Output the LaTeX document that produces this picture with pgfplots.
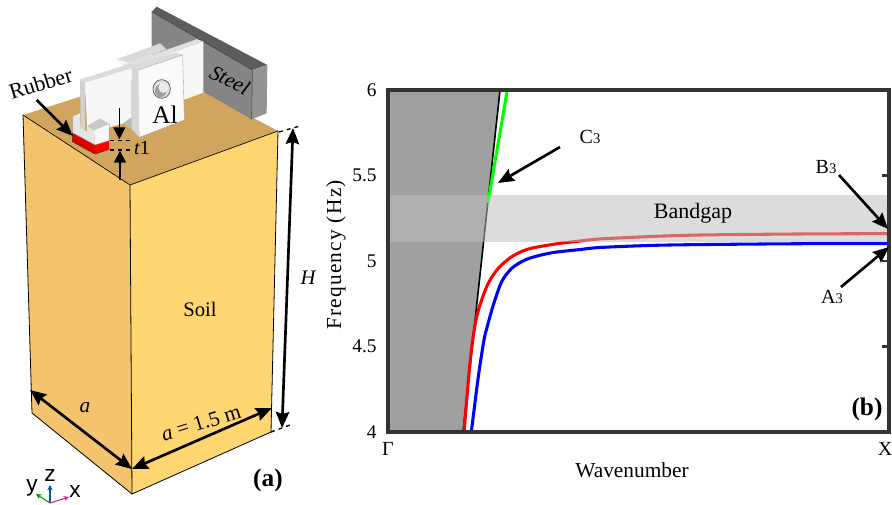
\documentclass[border=0pt]{standalone}
\usepackage{fontspec}
\setmainfont{Liberation Serif}
\newfontfamily\sansf{Liberation Sans}
\newfontfamily\spaced[LetterSpace=6]{Liberation Serif}
\usepackage{pgfplots}
\pgfplotsset{compat=1.18}
\usetikzlibrary{arrows.meta}
\definecolor{topc}{HTML}{D2A55E}
\definecolor{leftc}{HTML}{F3C46D}
\definecolor{rightc}{HTML}{FFD672}
\definecolor{frm}{HTML}{333333}
\newcommand{\fs}[1]{\fontsize{#1}{#1}\selectfont}
\pgfplotstableread{
x y
0.1517 4.000
0.1637 4.404
0.1737 4.626
0.1836 4.743
0.2002 4.870
0.2202 4.957
0.2469 5.025
0.2800 5.070
0.3333 5.099
0.3832 5.117
0.4232 5.129
0.5230 5.143
0.6228 5.152
0.8224 5.158
1.0000 5.160
}\redcurve
\pgfplotstableread{
x y
0.1663 4.000
0.1802 4.322
0.1916 4.538
0.1990 4.626
0.2102 4.743
0.2269 4.879
0.2469 4.957
0.2735 5.006
0.3000 5.031
0.3333 5.051
0.3832 5.067
0.4232 5.079
0.5230 5.091
0.6228 5.096
0.8224 5.101
1.0000 5.102
}\bluecurve
\begin{document}
\begin{tikzpicture}[x=0.75pt,y=-0.75pt,
  big/.style={-{Stealth[length=12pt,width=10pt,inset=1.5pt]},line width=2pt,black},
  bigb/.style={{Stealth[length=12pt,width=10pt,inset=1.5pt]}-{Stealth[length=12pt,width=10pt,inset=1.5pt]},line width=2pt,black}]
\useasboundingbox (0,0) rectangle (892,505);
% ---------- panel (b)
\begin{axis}[at={(291pt,-324pt)},anchor=south west,
  width=375.75pt,height=256.5pt,scale only axis,
  xmin=0,xmax=1,ymin=4,ymax=6,
  axis on top,
  axis line style={frm,line width=2.5pt},
  xtick={0,1},xticklabels={Γ,{X\hspace*{6pt}}},
  xtick style={draw=none},
  ytick={4,4.5,5,5.5,6},
  ytick pos=right,yticklabel pos=left,
  ytick style={frm,line width=1.8pt},
  tick align=inside,major tick length=5pt,
  /pgf/number format/assume math mode=true,
  yticklabel style={/pgf/number format/fixed,font=\fs{14.5},xshift=-5pt},
  xticklabel style={font=\fs{15},yshift=-4pt},
  xlabel={Wavenumber},ylabel={Frequency (Hz)},
  xlabel style={font=\fs{16},at={(axis description cs:0.487,0)},anchor=center,yshift=-29pt},
  ylabel style={font=\spaced\fs{16},at={(axis description cs:0,0.5175)},anchor=center,yshift=39pt},
  clip=true]
\addplot[fill={rgb,255:red,160;green,160;blue,160},draw=none] coordinates {(0,4)(0.1497,4)(0.2236,6)(0,6)} --cycle;
\addplot[black,line width=1.2pt] coordinates {(0.1497,4)(0.2236,6)};
\addplot[red,line width=2.3pt,smooth] table[x=x,y=y]{\redcurve};
\addplot[blue,line width=2.3pt,smooth] table[x=x,y=y]{\bluecurve};
\addplot[green,line width=2.3pt] coordinates {(0.2381,6)(0.2022,5.386)(0.1990,5.34)};
\addplot[fill={rgb,255:red,190;green,190;blue,190},draw=none,fill opacity=0.54] coordinates {(0,5.111)(1,5.111)(1,5.386)(0,5.386)} --cycle;
\end{axis}
\node[font=\fs{16.5}] at (693,213) {Bandgap};
\node[font=\fs{19}\bfseries] at (867,409) {(b)};
\node[font=\fs{15}] at (590,137) {C\raisebox{-0.5pt}{\fs{11}3}};
\node[font=\fs{15}] at (826,167) {B\raisebox{-0.5pt}{\fs{11}3}};
\node[font=\fs{15}] at (832,297) {A\raisebox{-0.5pt}{\fs{11}3}};
\draw[big] (560,147) -- (498,183);
\draw[big] (839,175) -- (888,229);
\draw[big] (841,287) -- (889,247);
% ---------- panel (a): block
\fill[topc] (23,115) -- (163,70) -- (278,131) -- (130,185) -- cycle;
\fill[leftc] (23,115) -- (130,185) -- (132,494) -- (32,413) -- cycle;
\fill[rightc] (130,185) -- (278,131) -- (271,432) -- (132,494) -- cycle;
\draw[black,line width=.5pt] (23,115) -- (130,185) -- (278,131);
\draw[black,line width=.6pt] (130,185) -- (132,494) -- (271,432) -- (278,131);
\draw[black,line width=.6pt] (23,115) -- (32,413) -- (132,494);
% machine, drawn in 3x zoom coordinates
\begin{scope}[x=0.25pt,y=-0.25pt]
\fill[black!48] (455,35) -- (757,210) -- (755,358) -- (610,275) -- (455,200) -- cycle;
\fill[black!64] (455,35) -- (470,20) -- (802,195) -- (757,210) -- cycle;
\fill[black!42] (757,210) -- (802,195) -- (800,340) -- (755,358) -- cycle;
\draw[black!75,line width=.4pt] (455,35) -- (757,210) -- (755,358);
\fill[black!15] (350,178) -- (480,130) -- (500,148) -- (368,195) -- cycle;
\fill[black!3] (350,178) -- (368,195) -- (395,205) -- (395,190) -- cycle;
\fill[black!3] (400,210) -- (590,118) -- (610,125) -- (610,278) -- (550,300) -- (400,300) -- cycle;
\fill[black!12] (368,195) -- (590,118) -- (610,125) -- (395,205) -- cycle;
% left plate
\fill[black!3] (255,248) -- (395,205) -- (395,352) -- (370,370) -- (328,382) -- (262,395) -- cycle;
\fill[black!14] (240,238) -- (395,190) -- (395,205) -- (255,248) -- cycle;
\fill[black!18] (240,238) -- (255,248) -- (255,395) -- (242,385) -- cycle;
\fill[black!28] (370,370) -- (395,352) -- (395,388) -- cycle;
% front square plate
\fill[black!2] (415,210) -- (548,165) -- (553,360) -- (418,412) -- cycle;
\fill[black!14] (395,195) -- (530,158) -- (548,165) -- (415,210) -- cycle;
\fill[black!16] (395,195) -- (415,210) -- (418,412) -- (395,390) -- cycle;
\draw[black!35,line width=.3pt] (415,210) -- (548,165) -- (553,360) -- (418,412) -- (395,390);
% hole
\fill[black!12,draw=black!70,line width=.5pt] (485,267) ellipse[x radius=26,y radius=28];
\fill[black!38] (482,272) ellipse[x radius=17,y radius=19];
\fill[black!8] (490,263) ellipse[x radius=14,y radius=16];
% base block and rubber
\fill[black!10] (217,350) -- (240,340) -- (242,385) -- (262,395) -- (262,378) -- (282,392) -- (285,435) -- (217,398) -- cycle;
\fill[black!22] (262,378) -- (300,355) -- (328,372) -- (282,392) -- cycle;
\fill[black!3] (282,392) -- (328,372) -- (327,422) -- (285,435) -- cycle;
\fill[red!88!black] (217,398) -- (285,435) -- (285,462) -- (217,425) -- cycle;
\fill[red] (285,435) -- (327,422) -- (327,448) -- (285,462) -- cycle;
\draw[black!40,line width=.3pt] (217,350) -- (217,398) -- (285,435) -- (327,422) -- (328,372);
\draw[black!80,line width=.4pt] (217,398) -- (217,425) -- (285,462) -- (327,448);
% t1
\draw[black,line width=1pt,dashed] (330,422) -- (395,422);
\draw[black,line width=1pt,dashed] (330,450) -- (395,450);
\draw[-{Stealth[length=9pt,width=9pt,inset=0pt]},line width=.7pt] (358,325) -- (358,418);
\draw[-{Stealth[length=9pt,width=9pt,inset=0pt]},line width=1pt] (360,540) -- (360,452);
\draw[big] (110,300) -- (218,408);
\node[font=\fs{19}] at (495,345) {Al};
\node[font=\fs{16}\itshape,rotate=-27] at (690,240) {Steel};
\node[font=\fs{16.5},rotate=17] at (122,250) {Rubber};
\node[font=\fs{15}] at (426,445) {\textit{t}1};
\end{scope}
% dims
\draw[bigb] (293,128) -- (282,428);
\draw[black,line width=1pt,dashed] (279,132) -- (300,126);
\draw[black,line width=1pt,dashed] (271,432) -- (290,425);
\draw[bigb] (30,390) -- (132,469);
\draw[bigb] (132,469) -- (272,408);
\node[font=\fs{15.5}] at (200,309) {Soil};
\node[font=\fs{15.5}\itshape] at (308,278) {H};
\node[font=\fs{16}\itshape] at (85,408) {a};
\node[font=\fs{16},rotate=17] at (201,423) {\textit{a} = 1.5 m};
\node[font=\fs{19}\bfseries] at (268,480) {(a)};
% triad
\draw[-{Stealth[length=4pt,width=4pt]},line width=.8pt,blue!50!cyan!70!black] (50,503) -- (50,485);
\draw[-{Stealth[length=4pt,width=4pt]},line width=.8pt,green!60!black] (50,503) -- (36,494);
\draw[-{Stealth[length=4pt,width=4pt]},line width=.8pt,magenta!80!black] (50,503) -- (69,497);
\node[font=\sansf\fs{17}] at (32,488) {y};
\node[font=\sansf\fs{17}] at (50,476) {z};
\node[font=\sansf\fs{17}] at (75,492) {x};
\end{tikzpicture}
\end{document}
